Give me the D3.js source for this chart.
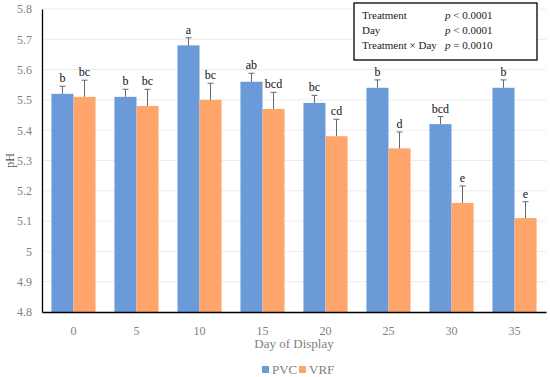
<!DOCTYPE html>
<html>
<head>
<meta charset="utf-8">
<script src="https://cdn.jsdelivr.net/npm/d3@7"></script>
<style>
  body { margin: 0; background: #fff; }
  text { font-family: "Liberation Serif", "DejaVu Serif", serif; }
</style>
</head>
<body>
<div id="chart"></div>
<script>
const days = ['0', '5', '10', '15', '20', '25', '30', '35']
const series = ['PVC', 'VRF']
const pvcValues = [5.52, 5.51, 5.68, 5.56, 5.49, 5.54, 5.42, 5.54]
const vrfValues = [5.51, 5.48, 5.50, 5.47, 5.38, 5.34, 5.16, 5.11]
const pvcErrors = [0.025, 0.025, 0.025, 0.028, 0.025, 0.026, 0.025, 0.026]
const vrfErrors = [0.055, 0.055, 0.055, 0.055, 0.056, 0.054, 0.056, 0.054]
const pvcLetters = ['b', 'b', 'a', 'ab', 'bc', 'b', 'bcd', 'b']
const vrfLetters = ['bc', 'bc', 'bc', 'bcd', 'cd', 'd', 'e', 'e']
const yTicks = [4.8, 4.9, 5.0, 5.1, 5.2, 5.3, 5.4, 5.5, 5.6, 5.7, 5.8]
const statRows = [
    ['Treatment', '<', '0.0001'],
    ['Day', '<', '0.0001'],
    ['Treatment \u00d7 Day', '=', '0.0010']
]

const colors = { PVC: '#6a9bd8', VRF: '#ffa46a' }
const width = 550, height = 377
const margin = { top: 9, right: 4, bottom: 65, left: 42 }

let svg = d3.select('#chart')
    .append('svg')
    .attr('width', width)
    .attr('height', height)

let x = d3.scaleBand()
    .domain(days)
    .range([margin.left, width - margin.right])
    .paddingInner(0.3)
    .paddingOuter(0.15)

let xSub = d3.scaleBand()
    .domain(series)
    .range([0, x.bandwidth()])

let y = d3.scaleLinear()
    .domain([4.8, 5.8])
    .range([height - margin.bottom, margin.top])

// gridlines
svg.append('g')
    .selectAll('line')
    .data(yTicks.slice(1))
    .enter()
    .append('line')
    .attr('x1', margin.left)
    .attr('x2', width - margin.right)
    .attr('y1', d => y(d))
    .attr('y2', d => y(d))
    .style('stroke', '#ececec')
    .style('stroke-width', 1)

// bars
const data = []
days.forEach((d, i) => {
    data.push({ day: d, key: 'PVC', value: pvcValues[i], err: pvcErrors[i], letter: pvcLetters[i] })
    data.push({ day: d, key: 'VRF', value: vrfValues[i], err: vrfErrors[i], letter: vrfLetters[i] })
})

svg.append('g')
    .selectAll('rect')
    .data(data)
    .enter()
    .append('rect')
    .attr('x', d => x(d.day) + xSub(d.key))
    .attr('y', d => y(d.value))
    .attr('width', xSub.bandwidth())
    .attr('height', d => y(4.8) - y(d.value))
    .style('fill', d => colors[d.key])

// error bars
let errG = svg.append('g')
    .style('stroke', '#666')
    .style('stroke-width', 1)
errG.selectAll('.err-v')
    .data(data)
    .enter()
    .append('line')
    .attr('x1', d => x(d.day) + xSub(d.key) + xSub.bandwidth() / 2)
    .attr('x2', d => x(d.day) + xSub(d.key) + xSub.bandwidth() / 2)
    .attr('y1', d => y(d.value))
    .attr('y2', d => y(d.value + d.err))
errG.selectAll('.err-cap')
    .data(data)
    .enter()
    .append('line')
    .attr('x1', d => x(d.day) + xSub(d.key) + xSub.bandwidth() / 2 - 3)
    .attr('x2', d => x(d.day) + xSub(d.key) + xSub.bandwidth() / 2 + 3)
    .attr('y1', d => y(d.value + d.err))
    .attr('y2', d => y(d.value + d.err))

// letters
svg.append('g')
    .selectAll('text')
    .data(data)
    .enter()
    .append('text')
    .attr('x', d => x(d.day) + xSub(d.key) + xSub.bandwidth() / 2)
    .attr('y', d => y(d.value + d.err) - 4)
    .attr('text-anchor', 'middle')
    .style('font-size', '12px')
    .style('fill', '#111')
    .text(d => d.letter)

// axes
let yAxis = svg.append('g')
    .attr('transform', `translate(${margin.left},0)`)
    .call(d3.axisLeft(y).tickValues(yTicks).tickSize(0).tickPadding(10)
        .tickFormat(d => d3.format('.1f')(d).replace(/\.0$/, '')))
yAxis.select('.domain').style('stroke', '#000').style('stroke-width', 1.3)
yAxis.selectAll('text').style('font-size', '12px').style('fill', '#7f7f7f')
    .style('font-family', '"Liberation Serif", serif')

let xAxis = svg.append('g')
    .attr('transform', `translate(0,${y(4.8)})`)
    .call(d3.axisBottom(x).tickSize(0).tickPadding(14))
xAxis.select('.domain').style('stroke', '#000').style('stroke-width', 1.3)
xAxis.selectAll('text').style('font-size', '12px').style('fill', '#7f7f7f')
    .style('font-family', '"Liberation Serif", serif')

// axis titles
svg.append('text')
    .attr('transform', `translate(14,${(margin.top + y(4.8)) / 2}) rotate(-90)`)
    .attr('text-anchor', 'middle')
    .style('font-size', '12px')
    .style('fill', '#595959')
    .text('pH')

svg.append('text')
    .attr('x', (margin.left + width - margin.right) / 2)
    .attr('y', 348)
    .attr('text-anchor', 'middle')
    .style('font-size', '13px')
    .style('fill', '#7f7f7f')
    .text('Day of Display')

// legend
let legend = svg.append('g')
    .selectAll('g')
    .data(series)
    .enter()
    .append('g')
    .attr('transform', (d, i) => `translate(${262 + i * 37},366)`)
legend.append('rect')
    .attr('width', 7)
    .attr('height', 7)
    .style('fill', d => colors[d])
legend.append('text')
    .attr('x', 10)
    .attr('y', 7.5)
    .style('font-size', '13px')
    .style('fill', '#7f7f7f')
    .text(d => d)

// stats box
let box = svg.append('g')
box.append('rect')
    .attr('x', 354)
    .attr('y', 3)
    .attr('width', 183)
    .attr('height', 57)
    .style('fill', '#fff')
    .style('stroke', '#000')
    .style('stroke-width', 1.3)
let rows = box.selectAll('.row')
    .data(statRows)
    .enter()
    .append('text')
    .attr('x', 362)
    .attr('y', (d, i) => 19 + i * 15)
    .style('font-size', '11px')
    .style('fill', '#1a1a1a')
rows.append('tspan').text(d => d[0])
rows.append('tspan').attr('x', 445).style('font-style', 'italic').text('p')
rows.append('tspan').text(d => ' ' + d[1] + ' ' + d[2])
</script>
</body>
</html>
